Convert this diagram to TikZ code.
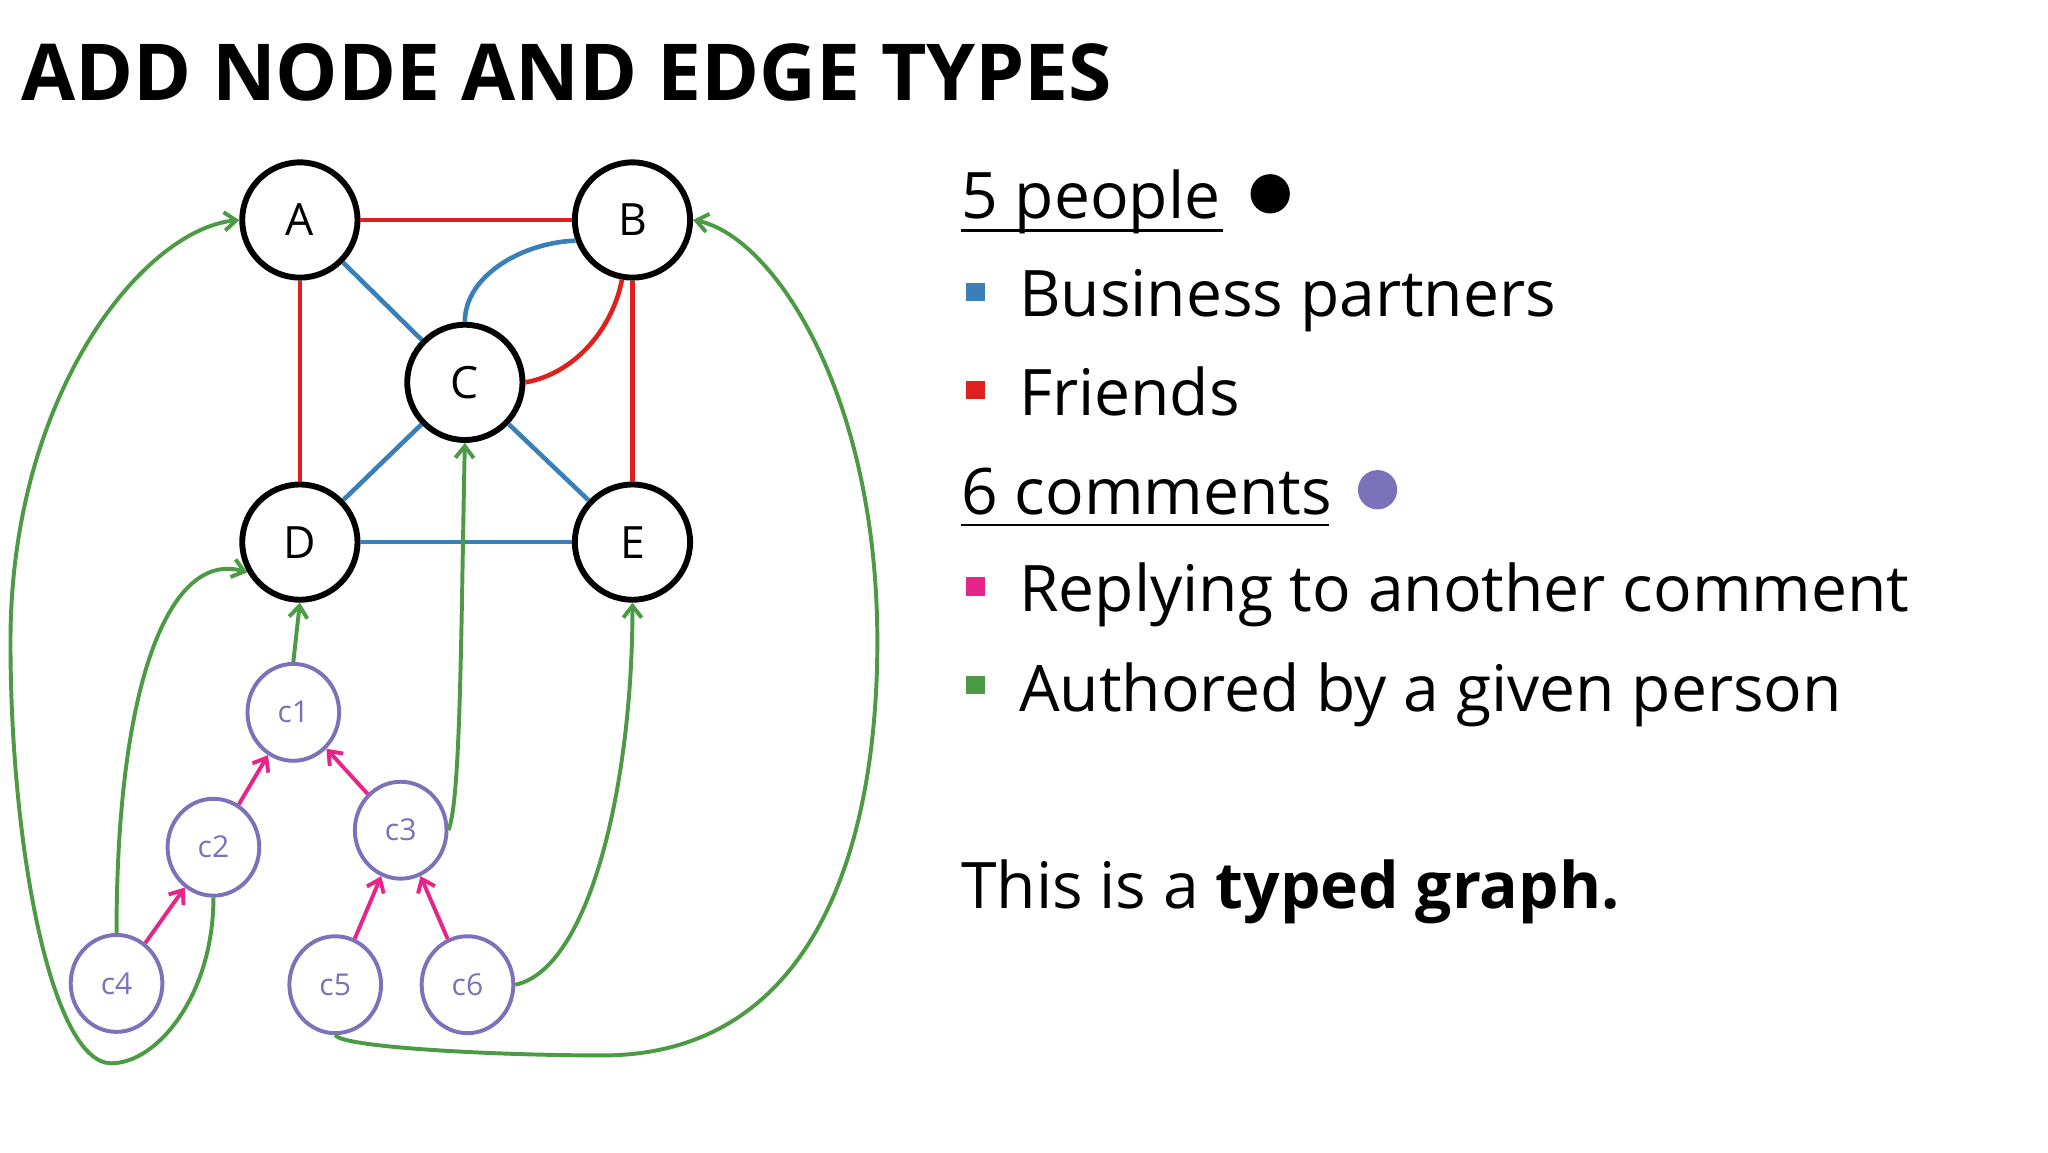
\documentclass[tikz,border=0pt]{standalone}
\usepackage{fontspec}
\setmainfont{Open Sans}
\usetikzlibrary{arrows.meta,shapes.geometric}
\definecolor{cred}{HTML}{E0201F}
\definecolor{cblue}{HTML}{3B7FB9}
\definecolor{cgreen}{HTML}{4C9A44}
\definecolor{cpink}{HTML}{E5258A}
\definecolor{cpurp}{HTML}{7B72B9}
\begin{document}
\begin{tikzpicture}[x=1pt,y=-1pt,
 person/.style={circle,draw=black,fill=white,line width=4.5pt,minimum size=88pt,inner sep=0pt,font=\fontsize{34}{40}\selectfont},
 comment/.style={ellipse,draw=cpurp,fill=white,line width=3pt,minimum width=70pt,minimum height=74pt,inner sep=0pt,text=cpurp,font=\fontsize{23}{28}\selectfont},
 redl/.style={cred,line width=3.5pt},
 bluel/.style={cblue,line width=3.5pt},
 greenl/.style={cgreen,line width=3pt,-{Straight Barb[length=9pt,width=14pt]}},
 pinkl/.style={cpink,line width=3pt,-{Straight Barb[length=9pt,width=14pt]}},
 body/.style={anchor=base west,inner sep=0pt,font=\fontsize{49}{60}\selectfont}]
\useasboundingbox (0,0) rectangle (1564,880);
\node[anchor=base west,inner sep=0pt,font=\fontsize{60}{70}\selectfont\bfseries] (title) at (16,77) {ADD NODE AND EDGE TYPES};
\node[person] (A) at (229,168) {A};
\node[person] (B) at (483,168) {B};
\node[person] (C) at (355,292) {C};
\node[person] (D) at (229,414) {D};
\node[person] (E) at (483,414) {E};
\begin{scope}[on background layer/.style={}]
\end{scope}
\draw[redl] (A)--(B); \draw[redl] (A)--(D); \draw[redl] (B)--(E);
\draw[bluel] (A)--(C); \draw[bluel] (C)--(D); \draw[bluel] (C)--(E); \draw[bluel] (D)--(E);
\draw[redl] (C.east) .. controls (440,285) and (468,250) .. (B.260);
\draw[bluel] (C.north) .. controls (355,210) and (400,185) .. (B.200);
\node[comment] (c1) at (224,544) {c1};
\node[comment] (c2) at (163,647) {c2};
\node[comment] (c3) at (306,634) {c3};
\node[comment] (c4) at (89,751) {c4};
\node[comment] (c5) at (256,752) {c5};
\node[comment] (c6) at (357,752) {c6};
\draw[pinkl] (c2)--(c1); \draw[pinkl] (c3)--(c1); \draw[pinkl] (c4)--(c2);
\draw[pinkl] (c5)--(c3); \draw[pinkl] (c6)--(c3);
\draw[greenl] (c1.north) -- (D.south);
\draw[greenl] (c3.east) .. controls (352,610) and (352,480) .. (C.south);
\draw[greenl] (c4.north) .. controls (89,520) and (130,420) .. (D.210);
\draw[greenl] (c6.east) .. controls (450,740) and (483,600) .. (E.south);
\draw[greenl] (c2.south) .. controls (163,760) and (120,812) .. (85,812)
  .. controls (40,812) and (8,650) .. (8,490)
  .. controls (8,300) and (110,175) .. (A.west);
\draw[greenl] (c5.south) .. controls (262,800) and (380,806) .. (460,806)
  .. controls (620,806) and (670,650) .. (670,490)
  .. controls (670,300) and (590,180) .. (B.east);
% legend
\node[body] (l1) at (734,167) {5 people};
\draw[line width=2pt] (734,176) -- (934,176);
\fill (970,148) circle (15);
\fill[cblue] (738,216) rectangle (752,230);
\node[body] (l2) at (778,242) {Business partners};
\fill[cred] (738,291) rectangle (752,305);
\node[body] (l3) at (778,317) {Friends};
\node[body] (l4) at (734,393) {6 comments};
\draw[line width=2pt] (734,401) -- (1015,401);
\fill[cpurp] (1052,374) circle (15);
\fill[cpink] (738,441) rectangle (752,455);
\node[body] (l5) at (778,467) {Replying to another comment};
\fill[cgreen] (738,516) rectangle (752,530);
\node[body] (l6) at (778,543) {Authored by a given person};
\node[body] (l7) at (734,694) {This is a \textbf{typed graph.}};
\end{tikzpicture}
\end{document}
